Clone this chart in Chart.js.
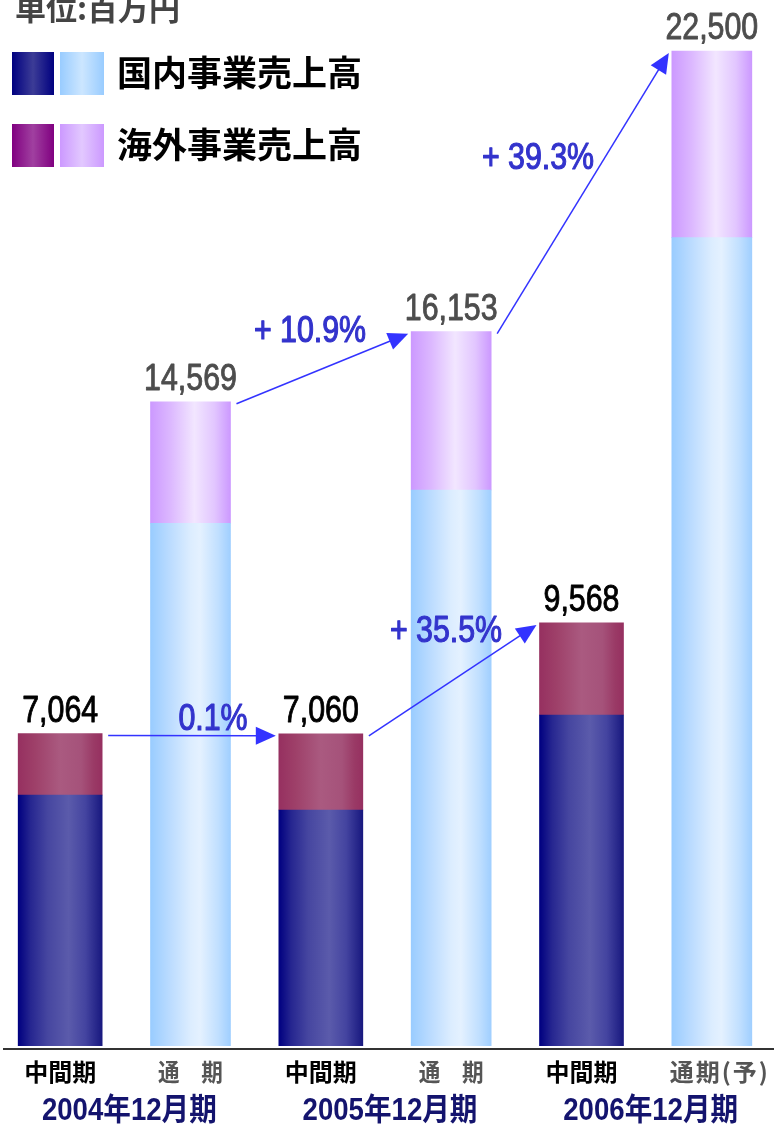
<!DOCTYPE html>
<html><head><meta charset="utf-8">
<script src="https://cdn.jsdelivr.net/npm/chart.js@4.4.0/dist/chart.umd.min.js"></script>
<style>
html,body{margin:0;padding:0;background:#fff;overflow:hidden;width:774px;height:1128px;}
#wrap{position:absolute;left:-5px;top:0;width:782px;height:1128px;}
</style></head><body>
<div id="wrap"><canvas id="c" width="782" height="1128"></canvas></div>
<script>
// ---- data ----
const periods = ['中間期','通　期','中間期','通　期','中間期','通期(予)'];
const periodType = ['mid','full','mid','full','mid','full'];
const years = ['2004年12月期','2005年12月期','2006年12月期'];
const domestic = [5676, 11820, 5337, 12573, 7485, 18278];
const overseas = [1388, 2749, 1723, 3580, 2083, 4222];
const growthFrom = [0, 1, 2, 3];
const growthTo = [2, 3, 4, 5];
const growthText = ['0.1%', '+ 10.9%', '+ 35.5%', '+ 39.3%'];
const seriesNames = ['国内事業売上高', '海外事業売上高'];
const unitLabel = '単位:百万円';

const totals = domestic.map((v, i) => v + overseas[i]);
const totalLabels = totals.map(v => v.toLocaleString('en-US'));

// ---- styles ----
const SH = 5; // page x -> canvas x
const gradStops = {
  domMid: [[0,'#000080'],[0.15,'#262690'],[0.35,'#4646a0'],[0.6,'#5b5bab'],[0.8,'#4444a0'],[1,'#18187f']],
  ovsMid: [[0,'#963060'],[0.2,'#9e4069'],[0.5,'#aa5a80'],[0.75,'#a5527a'],[0.9,'#9a3a66'],[1,'#963060']],
  domFull:[[0,'#99ccff'],[0.25,'#bcdcff'],[0.5,'#dcedff'],[0.62,'#e4f1ff'],[0.85,'#c0dfff'],[1,'#a0cfff']],
  ovsFull:[[0,'#cc99ff'],[0.25,'#dcb8ff'],[0.55,'#f2e6ff'],[0.8,'#e2c6ff'],[1,'#cc99ff']]
};
const legendStops = [
  [[[0,'#000080'],[0.5,'#3c3c96'],[1,'#000080']], [[0,'#99ccff'],[0.5,'#cce6ff'],[1,'#99ccff']]],
  [[[0,'#800080'],[0.5,'#a040a0'],[1,'#800080']], [[0,'#cc99ff'],[0.5,'#e2c8ff'],[1,'#cc99ff']]]
];
const growthLabelPos = [[213,730],[310,342],[446,642],[538,169]]; // page coords (center, baseline)

function grad(c) {
  const chart = c.chart, ca = chart.chartArea, key = c.dataset.key;
  if (!ca || c.type !== 'data' || !chart.scales.x) return gradStops[key][0][1];
  const x = chart.scales.x.getPixelForValue(c.dataIndex);
  const w = c.dataset.barThickness;
  const g = chart.ctx.createLinearGradient(x - w/2, 0, x + w/2, 0);
  gradStops[key].forEach(s => g.addColorStop(s[0], s[1]));
  return g;
}
const mask = (arr, t) => arr.map((v, i) => periodType[i] === t ? v : null);

const datasets = [
  {key:'domMid', label:seriesNames[0], data:mask(domestic,'mid'), barThickness:84},
  {key:'ovsMid', label:seriesNames[1], data:mask(overseas,'mid'), barThickness:84},
  {key:'domFull', label:seriesNames[0], data:mask(domestic,'full'), barThickness:80},
  {key:'ovsFull', label:seriesNames[1], data:mask(overseas,'full'), barThickness:80}
].map(d => Object.assign(d, {backgroundColor: grad, borderWidth: 0}));

function txt(ctx, s, x, y, font, color, sx, align, base, stroke, spacing) {
  ctx.save();
  ctx.font = font; ctx.fillStyle = color;
  if (spacing) ctx.letterSpacing = spacing;
  ctx.textAlign = align || 'center'; ctx.textBaseline = base || 'alphabetic';
  ctx.translate(x, y); ctx.scale(sx, 1); ctx.fillText(s, 0, 0);
  if (stroke) { ctx.strokeStyle = color; ctx.lineWidth = stroke; ctx.lineJoin = 'round'; ctx.strokeText(s, 0, 0); }
  ctx.restore();
}

const deco = {
  id: 'deco',
  afterDatasetsDraw(chart) {
    const ctx = chart.ctx, xs = chart.scales.x, ys = chart.scales.y;
    const numFont = '37px "Liberation Sans", Arial, sans-serif';
    // axis line
    ctx.save(); ctx.strokeStyle = '#333'; ctx.lineWidth = 2;
    ctx.beginPath(); ctx.moveTo(3 + SH, 1049); ctx.lineTo(782, 1049); ctx.stroke(); ctx.restore();

    // value labels
    totals.forEach((t, i) => {
      const x = xs.getPixelForValue(i), y = ys.getPixelForValue(t);
      txt(ctx, totalLabels[i], x, y - 12, numFont, periodType[i] === 'mid' ? '#000' : '#4d4d4d', 0.82, 'center', 'alphabetic', 0.9);
    });
    // period labels
    periods.forEach((p, i) => {
      const x = xs.getPixelForValue(i);
      const last = i === periods.length - 1;
      txt(ctx, p, x + (last ? 8 : 0), 1072, 'bold 24px "Noto Sans CJK JP", sans-serif',
          periodType[i] === 'mid' ? '#000' : '#555', periodType[i] === 'mid' ? 1 : (last ? 1 : 0.9), 'center', 'middle', 0, last ? '2px' : null);
    });
    // year labels
    years.forEach((y, k) => {
      const x = (xs.getPixelForValue(2*k) + xs.getPixelForValue(2*k+1)) / 2 + 4;
      txt(ctx, y, x, 1111, 'bold 31px "Liberation Sans", "Noto Sans CJK JP", sans-serif', '#14146e', 0.89, 'center', 'middle');
    });
    // arrows
    const elem = i => chart.getDatasetMeta(periodType[i] === 'mid' ? 1 : 3).data[i];
    ctx.save();
    ctx.strokeStyle = '#3333ff'; ctx.fillStyle = '#3333ff'; ctx.lineWidth = 1.5;
    growthFrom.forEach((f, k) => {
      const a = elem(f), b = elem(growthTo[k]);
      const sx = a.x + a.width/2 + 6, sy = a.y + 2;
      const ex = b.x - b.width/2 - 3, ey = b.y + 2;
      const dx = ex - sx, dy = ey - sy, L = Math.hypot(dx, dy), ux = dx/L, uy = dy/L;
      const hl = 20, hw = 9;
      ctx.beginPath(); ctx.moveTo(sx, sy); ctx.lineTo(ex - ux*hl*0.8, ey - uy*hl*0.8); ctx.stroke();
      ctx.beginPath();
      ctx.moveTo(ex, ey);
      ctx.lineTo(ex - ux*hl - uy*hw, ey - uy*hl + ux*hw);
      ctx.lineTo(ex - ux*hl + uy*hw, ey - uy*hl - ux*hw);
      ctx.closePath(); ctx.fill();
    });
    ctx.restore();
    growthText.forEach((g, k) => {
      const p = growthLabelPos[k];
      txt(ctx, g, p[0] + SH, p[1], numFont, '#3333cc', 0.82, 'center', 'alphabetic', 1.2);
    });

    // unit label
    txt(ctx, unitLabel, 15 + SH, 20, 'bold 31px "Noto Sans CJK JP", sans-serif', '#444', 1, 'left');
    // legend
    const rows = [52, 124];
    rows.forEach((ry, r) => {
      [[12, 42], [60, 44]].forEach((sq, s) => {
        const x0 = sq[0] + SH, w = sq[1];
        const g = ctx.createLinearGradient(x0, 0, x0 + w, 0);
        legendStops[r][s].forEach(st => g.addColorStop(st[0], st[1]));
        ctx.fillStyle = g; ctx.fillRect(x0, ry, w, 43);
      });
      txt(ctx, seriesNames[r], 117 + SH, ry + 21, 'bold 35px "Noto Sans CJK JP", sans-serif', '#000', 1, 'left', 'middle');
    });
  }
};

new Chart(document.getElementById('c'), {
  type: 'bar',
  data: { labels: periods, datasets },
  options: {
    responsive: false, animation: false,
    layout: { padding: { left: 0, right: 0, top: 0, bottom: 82 } },
    plugins: { legend: { display: false }, tooltip: { enabled: false } },
    scales: {
      x: { display: false, stacked: true, offset: true },
      y: { display: false, stacked: true, min: 0, max: 23653 }
    }
  },
  plugins: [deco]
});
</script>
</body></html>
